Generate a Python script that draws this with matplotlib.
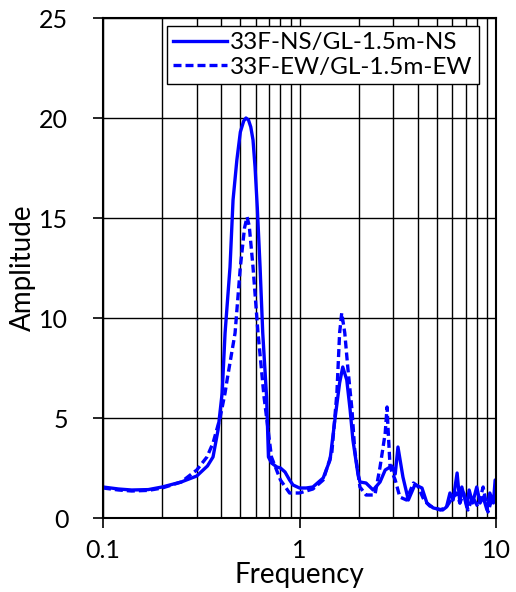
import matplotlib
matplotlib.use("Agg")
import matplotlib.pyplot as plt
from matplotlib.ticker import LogLocator, NullFormatter, FixedLocator, FixedFormatter

plt.rcParams['font.family'] = ['Lato', 'DejaVu Sans']

freq_ns = [0.1, 0.12, 0.14, 0.17, 0.2, 0.25, 0.3, 0.34, 0.363, 0.385, 0.404, 0.418,
           0.443, 0.459, 0.48, 0.50, 0.52, 0.534, 0.55, 0.565, 0.58, 0.594, 0.61, 0.63,
           0.65, 0.68, 0.695, 0.72, 0.767, 0.80, 0.844, 0.89, 0.927, 1.0, 1.08, 1.17,
           1.32, 1.43, 1.52, 1.60, 1.66, 1.74, 1.81, 1.87, 1.98, 2.03, 2.18, 2.37,
           2.57, 2.73, 2.95, 3.07, 3.17, 3.36, 3.58, 3.86, 4.0, 4.2, 4.45, 4.8, 5.35,
           5.6, 5.83, 6.05, 6.34, 6.55, 6.7, 7.1, 7.3, 7.6, 7.98, 8.3, 8.6, 9.0, 9.3,
           9.7, 9.9, 10.0]
amp_ns = [1.55, 1.45, 1.4, 1.42, 1.55, 1.8, 2.1, 2.6, 3.05, 4.4, 6.25, 9.25,
          12.55, 15.9, 17.9, 19.3, 19.85, 20.0, 19.9, 19.55, 18.9, 17.55, 15.5, 12.55,
          9.25, 6.05, 3.05, 2.75, 2.55, 2.5, 2.3, 1.9, 1.65, 1.5, 1.5, 1.55,
          2.0, 2.9, 5.05, 6.75, 7.55, 6.9, 5.4, 3.9, 2.25, 1.8, 1.75, 1.4,
          1.8, 2.4, 2.6, 2.2, 3.55, 2.05, 0.9, 1.65, 1.6, 1.5, 0.75, 0.5, 0.4,
          0.55, 1.25, 0.9, 2.25, 0.75, 1.55, 0.55, 1.4, 0.75, 1.55, 0.75, 1.05, 0.4, 1.25,
          0.75, 1.9, 1.9]

freq_ew = [0.1, 0.12, 0.14, 0.17, 0.2, 0.25, 0.3, 0.338, 0.363, 0.394, 0.418, 0.428,
           0.47, 0.50, 0.525, 0.541, 0.555, 0.58, 0.615, 0.66, 0.72, 0.80, 0.89, 1.0,
           1.17, 1.32, 1.46, 1.55, 1.60, 1.64, 1.70, 1.76, 1.85, 1.91, 2.03, 2.18,
           2.42, 2.57, 2.73, 2.79, 2.82, 2.89, 3.07, 3.24, 3.5, 3.8, 4.0, 4.3, 4.6,
           5.2, 5.6, 5.9, 6.3, 6.55, 6.85, 7.2, 7.6, 8.1, 8.6, 9.1, 9.6, 10.0]
amp_ew = [1.5, 1.4, 1.35, 1.38, 1.5, 1.8, 2.4, 3.05, 3.75, 5.0, 6.25, 6.9,
          9.25, 12.55, 14.5, 15.05, 14.6, 12.55, 9.25, 6.05, 3.05, 1.9, 1.25, 1.25,
          1.45, 1.9, 3.25, 6.25, 9.25, 10.25, 9.25, 7.55, 5.4, 3.4, 1.55, 1.15,
          1.15, 2.55, 4.25, 5.55, 4.55, 2.55, 1.9, 1.05, 0.9, 1.75, 1.6, 0.9, 0.6,
          0.4, 0.55, 0.9, 1.25, 0.75, 1.25, 0.4, 1.05, 0.55, 1.55, 0.3, 1.05, 0.9]

labels = ['33F-NS/GL-1.5m-NS', '33F-EW/GL-1.5m-EW']
x_ticks = [0.1, 1, 10]
x_tick_labels = ['0.1', '1', '10']
y_ticks = [0, 5, 10, 15, 20, 25]

fig = plt.figure(figsize=(5.16, 5.92), dpi=100)
ax = fig.add_axes([103/516, 1-518/592, (496-103)/516, 500/592])

ax.plot(freq_ns, amp_ns, color='#0000ff', lw=2.4, ls='-', label=labels[0])
ax.plot(freq_ew, amp_ew, color='#0000ff', lw=2.4, ls=(0, (2.4, 1.2)), label=labels[1])

ax.set_xscale('log')
ax.set_xlim(0.1, 10)
ax.set_ylim(0, 25)
ax.xaxis.set_major_locator(FixedLocator(x_ticks))
ax.xaxis.set_major_formatter(FixedFormatter(x_tick_labels))
ax.xaxis.set_minor_locator(LogLocator(base=10, subs=range(2, 10)))
ax.xaxis.set_minor_formatter(NullFormatter())
ax.set_yticks(y_ticks)

ax.grid(True, which='major', axis='both', color='black', lw=1.0)
ax.grid(True, which='minor', axis='x', color='black', lw=1.0)
ax.set_axisbelow(True)

for s in ax.spines.values():
    s.set_color('black')
    s.set_linewidth(1.5)

ax.tick_params(axis='both', which='major', direction='out', length=7, width=1.2,
               labelsize=18, colors='black')
ax.tick_params(axis='x', which='minor', length=0)
ax.tick_params(axis='x', pad=8)
ax.tick_params(axis='y', pad=18)

ax.set_xlabel('Frequency', fontsize=20, labelpad=0)
ax.set_ylabel('Amplitude', fontsize=20, labelpad=2)

leg = ax.legend(loc='upper right', bbox_to_anchor=(1 - 17/393, 1 - 8/500), fontsize=17.5,
                frameon=True, fancybox=False, edgecolor='black', framealpha=1,
                handlelength=2.2, handletextpad=0.15, borderpad=0.25, labelspacing=0.15,
                borderaxespad=0)
leg.get_frame().set_linewidth(1.0)

fig.savefig('out.png', dpi=100, facecolor='white')
